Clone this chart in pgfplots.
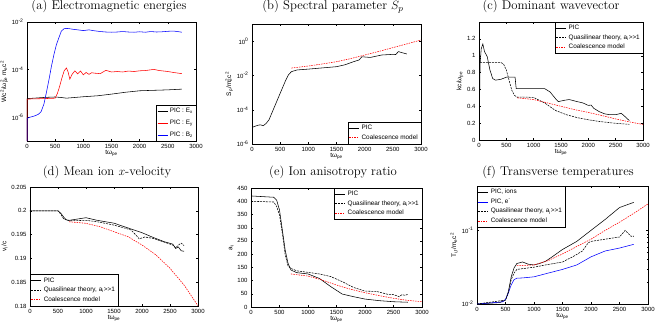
\documentclass[border=0pt]{standalone}
\usepackage{fontspec}
\usepackage{pgfplots}
\pgfplotsset{compat=1.18}
\newfontfamily\hv{Liberation Sans}
\newcommand{\tf}{\hv\fontsize{6}{7}\selectfont}
\newcommand{\lf}{\hv\fontsize{6.4}{7}\selectfont}
\pgfplotsset{
  mat/.style={scale only axis, xmin=0, xmax=3000, xtick={0,500,...,3000},
    tick align=inside, major tick length=2.2pt, minor tick length=1.2pt,
    xtick pos=both, ytick pos=both,
    tick label style={font=\tf},
    label style={font=\hv\fontsize{6.5}{7.5}\selectfont},
    /pgf/number format/assume math mode=true,
    /pgf/number format/set thousands separator={},
    scaled ticks=false,
    axis line style={line width=0.4pt},
    every tick/.style={line width=0.35pt, black},
    xlabel={tω\textsubscript{pe}},
    xlabel style={yshift=5pt},
    ylabel style={yshift=-3pt},
    every axis plot/.append style={line width=0.55pt},
    legend style={font=\lf, draw=black, line width=0.4pt, inner sep=1pt,
      row sep=-0.5pt, cells={anchor=west}},
    legend image code/.code={\draw[##1] (0pt,0pt) -- (10pt,0pt);},
  },
  ql/.style={black, dash pattern=on 2pt off 1pt},
  co/.style={red, dash pattern=on 1.5pt off 1pt},
}
\begin{document}
\begin{tikzpicture}
\useasboundingbox (0,0) rectangle (656pt,-325pt);
\tikzset{ttl/.style={font=\fontsize{12.7}{15}\selectfont}}
\node[ttl] at (109pt,-6.5pt) {(a) Electromagnetic energies};
\node[ttl] at (333pt,-6.5pt) {(b) Spectral parameter $S_p$};
\node[ttl] at (551pt,-6.5pt) {(c) Dominant wavevector};
\node[ttl] at (107pt,-172pt) {(d) Mean ion $x$-velocity};
\node[ttl] at (333pt,-172pt) {(e) Ion anisotropy ratio};
\node[ttl] at (558pt,-172pt) {(f) Transverse temperatures};

% (a)
\begin{axis}[mat, at={(27pt,-141pt)}, anchor=south west, width=169pt, height=119pt,
  ymode=log, ymin=1e-7, ymax=1e-2, ytick={1e-6,1e-4,1e-2},
  yticklabels={10\textsuperscript{-6},10\textsuperscript{-4},10\textsuperscript{-2}},
  minor ytick={}, 
  ylabel={Wc\textsuperscript{2}/ω\textsuperscript{2}\kern-0.45em\textsubscript{pe} m\textsubscript{e}c\textsuperscript{2}},
  legend style={at={(1,0)}, anchor=south east, row sep=2pt}]
\addplot[black] coordinates {(0,1e-7)(2,6.03e-6)(300,6.76e-6)(500,7.08e-6)(600,6.76e-6)(700,6.31e-6)(1000,7.24e-6)(1250,7.94e-6)(1500,9.33e-6)(1750,1.12e-5)(2000,1.29e-5)(2250,1.35e-5)(2500,1.41e-5)(2750,1.51e-5)};
\addlegendentry{PIC : E\textsubscript{x}}
\addplot[red] coordinates {(0,1e-7)(2,5.75e-6)(100,5.89e-6)(300,6.03e-6)(500,6.31e-6)(540,1e-5)(580,2.0e-5)(620,4.47e-5)(660,8.91e-5)(700,1.17e-4)(730,7.94e-5)(760,3.98e-5)(800,6.31e-5)(850,8.91e-5)(900,6.61e-5)(950,8.71e-5)(1000,6.03e-5)(1050,7.59e-5)(1100,6.31e-5)(1150,7.41e-5)(1200,7.08e-5)(1300,6.76e-5)(1400,9.33e-5)(1500,7.94e-5)(1600,8.32e-5)(1700,7.94e-5)(1800,8.71e-5)(1900,8.32e-5)(2000,8.91e-5)(2100,9.12e-5)(2250,1.02e-4)(2350,9.12e-5)(2500,8.32e-5)(2600,7.59e-5)(2750,6.76e-5)};
\addlegendentry{PIC : E\textsubscript{y}}
\addplot[blue] coordinates {(0,1e-7)(2,8.91e-7)(50,1e-6)(100,1.07e-6)(150,1.17e-6)(200,1.32e-6)(250,1.70e-6)(300,3.55e-6)(343,1.05e-5)(400,5.01e-5)(432,1.32e-4)(480,4.47e-4)(520,1.07e-3)(560,2.0e-3)(610,4.17e-3)(660,5.25e-3)(700,5.37e-3)(750,5.25e-3)(800,5.01e-3)(900,4.68e-3)(1000,4.37e-3)(1100,4.68e-3)(1200,4.27e-3)(1300,3.98e-3)(1400,3.80e-3)(1500,3.72e-3)(1600,3.80e-3)(1700,3.98e-3)(1800,3.80e-3)(1900,3.72e-3)(2000,3.89e-3)(2100,3.72e-3)(2200,3.98e-3)(2300,3.80e-3)(2400,3.89e-3)(2500,4.07e-3)(2600,4.17e-3)(2700,3.89e-3)(2750,3.72e-3)};
\addlegendentry{PIC : B\textsubscript{z}}
\end{axis}

% (b)
\begin{axis}[mat, at={(252pt,-144pt)}, anchor=south west, width=169pt, height=120pt,
  ymode=log, ymin=1e-6, ymax=10, ytick={1e-6,1e-4,1e-2,1},
  yticklabels={10\textsuperscript{-6},10\textsuperscript{-4},10\textsuperscript{-2},10\textsuperscript{0}},
  minor ytick={},
  ylabel={S\textsubscript{p}/m\textsuperscript{2}\kern-0.4em\textsubscript{e}c\textsuperscript{2}},
  legend style={at={(1,0)}, anchor=south east}]
\addplot[black] coordinates {(0,9.33e-6)(100,1.23e-5)(150,1.32e-5)(200,1.17e-5)(250,1.58e-5)(300,2.51e-5)(400,1.51e-4)(500,9.12e-4)(600,5.37e-3)(650,1.12e-2)(700,1.66e-2)(800,2.09e-2)(1000,2.34e-2)(1250,2.75e-2)(1500,3.24e-2)(1650,4.17e-2)(1800,6.31e-2)(1900,7.94e-2)(1950,0.123)(2100,0.112)(2300,0.155)(2500,0.170)(2550,0.166)(2600,0.245)(2650,0.219)(2750,0.178)};
\addlegendentry{PIC}
\addplot[co] coordinates {(700,2.69e-2)(1000,3.55e-2)(1250,4.68e-2)(1500,6.31e-2)(1750,9.55e-2)(2000,0.155)(2250,0.251)(2500,0.417)(2750,0.692)(3000,1.17)};
\addlegendentry{Coalescence model}
\end{axis}

% (c)
\begin{axis}[mat, at={(479pt,-140pt)}, anchor=south west, width=164pt, height=118pt,
  ymin=0, ymax=1.4, ytick={0,0.2,...,1.2},
  ylabel={kc/ω\textsubscript{pe}},
  legend style={at={(1,1)}, anchor=north east}]
\addplot[black] coordinates {(0,0)(20,0.9)(40,1.08)(70,1.14)(100,1.05)(150,0.99)(200,0.83)(250,0.73)(300,0.71)(400,0.72)(500,0.745)(600,0.745)(660,0.745)(680,0.61)(800,0.61)(1000,0.61)(1200,0.61)(1300,0.57)(1400,0.49)(1450,0.455)(1550,0.47)(1650,0.48)(1800,0.455)(1900,0.44)(2000,0.41)(2050,0.415)(2100,0.376)(2200,0.336)(2300,0.31)(2400,0.30)(2500,0.30)(2600,0.317)(2650,0.29)(2750,0.23)};
\addlegendentry{PIC}
\addplot[ql] coordinates {(0,0)(10,0.92)(400,0.92)(450,0.9)(500,0.83)(550,0.71)(600,0.59)(650,0.53)(700,0.507)(800,0.51)(1000,0.505)(1200,0.44)(1400,0.35)(1600,0.30)(1800,0.265)(2000,0.24)(2200,0.22)(2500,0.198)(2750,0.186)};
\addlegendentry{Quasilinear theory, a\textsubscript{i}>>1}
\addplot[co] coordinates {(700,0.50)(1000,0.48)(1250,0.44)(1500,0.40)(1750,0.36)(2000,0.327)(2250,0.29)(2500,0.25)(2750,0.215)(3000,0.185)};
\addlegendentry{Coalescence model}
\end{axis}

% (d)
\begin{axis}[mat, at={(30pt,-306pt)}, anchor=south west, width=168pt, height=119pt,
  ymin=0.18, ymax=0.205, ytick={0.18,0.185,...,0.2051},
  yticklabel style={/pgf/number format/fixed, /pgf/number format/precision=3},
  ylabel={v\textsubscript{i}/c},
  legend style={at={(0,0)}, anchor=south west}]
\addplot[black] coordinates {(0,0.2)(500,0.2)(550,0.1995)(600,0.1987)(650,0.1981)(700,0.198)(1000,0.19855)(1200,0.198)(1500,0.1974)(1800,0.1962)(2000,0.1954)(2200,0.1944)(2400,0.1935)(2550,0.1930)(2600,0.1921)(2650,0.1924)(2700,0.1916)(2750,0.1915)};
\addlegendentry{PIC}
\addplot[ql] coordinates {(0,0.2)(500,0.2)(550,0.1993)(600,0.1983)(700,0.1979)(1000,0.198)(1200,0.1977)(1500,0.197)(1800,0.196)(1900,0.1948)(1950,0.1941)(2000,0.1943)(2050,0.1945)(2200,0.1942)(2400,0.1934)(2550,0.1928)(2600,0.1922)(2650,0.1928)(2700,0.1932)(2750,0.1927)};
\addlegendentry{Quasilinear theory, a\textsubscript{i}>>1}
\addplot[co] coordinates {(700,0.1977)(1000,0.19737)(1250,0.19666)(1500,0.19561)(1750,0.19456)(2000,0.19282)(2250,0.19072)(2500,0.18792)(2750,0.18441)(3000,0.18006)};
\addlegendentry{Coalescence model}
\end{axis}

% (e)
\begin{axis}[mat, at={(251pt,-307pt)}, anchor=south west, width=171pt, height=119pt,
  ymin=0, ymax=450, ytick={0,50,...,450},
  ylabel={a\textsubscript{i}},
  legend style={at={(1,1)}, anchor=north east}]
\addplot[black] coordinates {(0,420)(400,415)(450,404)(500,367)(550,291)(600,215)(650,165)(700,140)(800,130)(1000,125)(1200,108)(1400,77)(1600,49)(1800,39)(2000,30)(2250,24)(2500,20)(2750,18)};
\addlegendentry{PIC}
\addplot[ql] coordinates {(0,400)(400,397)(450,380)(500,348)(550,279)(600,197)(650,155)(700,146)(800,137)(1000,131)(1200,125)(1400,115)(1600,96)(1800,74)(2000,60)(2200,59)(2400,48)(2500,47)(2600,39)(2650,47)(2700,44)(2750,48)};
\addlegendentry{Quasilinear theory, a\textsubscript{i}>>1}
\addplot[co] coordinates {(700,125)(1000,117)(1250,102)(1500,83)(1750,67)(2000,54)(2250,43)(2500,33)(2750,25)(3000,20)};
\addlegendentry{Coalescence model}
\end{axis}

% (f)
\begin{axis}[mat, at={(477pt,-304pt)}, anchor=south west, width=171pt, height=118pt,
  ymode=log, ymin=0.01, ymax=0.4, ytick={0.01,0.1},
  yticklabels={10\textsuperscript{-2},10\textsuperscript{-1}},
  ylabel={T\textsubscript{i,f}/m\textsubscript{e}c\textsuperscript{2}},
  legend style={at={(0,1)}, anchor=north west}]
\addplot[black] coordinates {(0,0.01)(400,0.01047)(500,0.01135)(550,0.0148)(600,0.0234)(650,0.0309)(700,0.0355)(800,0.0372)(900,0.0347)(1000,0.0339)(1100,0.0355)(1200,0.038)(1300,0.0427)(1500,0.055)(1750,0.0708)(2000,0.1)(2250,0.141)(2500,0.204)(2750,0.24)};
\addlegendentry{PIC, ions}
\addplot[blue] coordinates {(0,0.01)(450,0.0107)(500,0.0115)(550,0.0141)(600,0.0182)(650,0.0214)(700,0.0224)(800,0.0226)(1000,0.0234)(1250,0.0263)(1500,0.0295)(1750,0.0339)(2000,0.0437)(2250,0.0525)(2500,0.0575)(2750,0.0646)};
\addlegendentry{PIC, e\textsuperscript{-}}
\addplot[ql] coordinates {(0,0.01)(500,0.0113)(550,0.0141)(600,0.0214)(650,0.0263)(700,0.0295)(800,0.0302)(1000,0.0316)(1200,0.0339)(1500,0.0372)(1700,0.0447)(1850,0.0525)(1950,0.0676)(2000,0.0708)(2250,0.0759)(2500,0.0813)(2600,0.1)(2650,0.0912)(2700,0.0832)(2750,0.0832)};
\addlegendentry{Quasilinear theory, a\textsubscript{i}>>1}
\addplot[co] coordinates {(700,0.0331)(1000,0.0339)(1250,0.0389)(1500,0.0479)(1750,0.0603)(2000,0.0759)(2250,0.1)(2500,0.129)(2750,0.170)(3000,0.229)};
\addlegendentry{Coalescence model}
\end{axis}
\end{tikzpicture}
\end{document}
